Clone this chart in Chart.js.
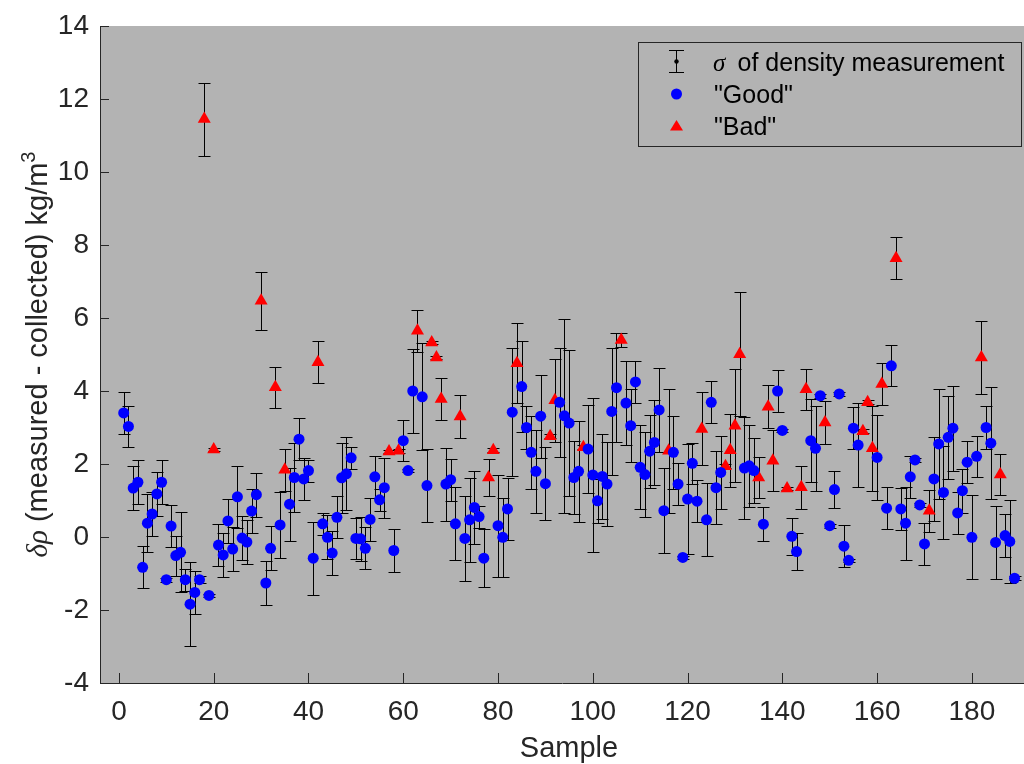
<!DOCTYPE html>
<html><head><meta charset="utf-8">
<script src="https://cdn.jsdelivr.net/npm/chart.js@4"></script>
<style>html,body{margin:0;padding:0;background:#fff;overflow:hidden;} #wrap{width:1024px;height:764px;position:relative;}</style>
</head><body><div id="wrap"><canvas id="c" width="1024" height="764"></canvas></div>
<script>
// Measured minus collected density for each sample (kg/m^3), sample 1..189
const sampleValues = [
  3.40, 3.03, 1.34, 1.50, -0.83, 0.38, 0.63, 1.18, 1.50, -1.17,
  0.30, -0.51, -0.42, -1.17, -1.84, -1.52, -1.17, 11.45, -1.60, 2.40,
  -0.22, -0.49, 0.44, -0.33, 1.10, -0.03, -0.14, 0.71, 1.16, 6.47,
  -1.26, -0.31, 4.10, 0.33, 1.84, 0.90, 1.63, 2.68, 1.59, 1.82,
  -0.58, 4.79, 0.36, -0.01, -0.44, 0.54, 1.62, 1.73, 2.17, -0.04,
  -0.05, -0.31, 0.48, 1.65, 1.02, 1.35, 2.34, -0.37, 2.36, 2.64,
  1.82, 4.00, 5.65, 3.84, 1.41, 5.33, 4.92, 3.78, 1.45, 1.57,
  0.36, 3.30, -0.04, 0.47, 0.81, 0.56, -0.58, 1.63, 2.38, 0.31,
  -0.01, 0.77, 3.42, 4.76, 4.12, 3.00, 2.32, 1.80, 3.31, 1.46,
  2.76, 3.75, 3.69, 3.32, 3.12, 1.63, 1.80, 2.46, 2.41, 1.70,
  0.99, 1.66, 1.45, 3.44, 4.09, 5.40, 3.67, 3.05, 4.25, 1.91,
  1.71, 2.35, 2.59, 3.48, 0.72, 2.36, 2.32, 1.45, -0.56, 1.04,
  2.02, 0.98, 2.96, 0.47, 3.69, 1.35, 1.77, 1.94, 2.38, 3.05,
  5.01, 1.89, 1.95, 1.82, 1.63, 0.35, 3.57, 2.09, 4.00, 2.92,
  1.33, 0.02, -0.40, 1.36, 4.05, 2.64, 2.43, 3.87, 3.14, 0.31,
  1.30, 3.92, -0.25, -0.64, 2.98, 2.52, 2.90, 3.69, 2.43, 2.18,
  4.19, 0.79, 4.69, 7.64, 0.77, 0.38, 1.65, 2.11, 0.88, -0.19,
  0.72, 1.59, 2.55, 1.22, 2.73, 2.98, 0.66, 1.27, 2.05, -0.01,
  2.21, 4.92, 3.00, 2.57, -0.15, 1.71, 0.04, -0.12, -1.13
];
// sigma of density measurement for each sample
const sampleErrors = [
  0.58, 0.57, 0.60, 0.60, 0.58, 0.80, 0.60, 0.60, 0.60, 0.05,
  0.58, 0.55, 1.10, 0.30, 1.15, 0.60, 0.10, 1.00, 0.05, 0.05,
  0.58, 0.60, 0.60, 0.60, 0.85, 0.60, 0.60, 0.60, 0.60, 0.80,
  0.60, 0.60, 0.57, 0.90, 0.58, 1.00, 0.95, 0.58, 0.57, 0.30,
  1.00, 0.58, 0.30, 0.60, 0.60, 0.58, 0.96, 1.00, 0.30, 0.55,
  0.60, 0.58, 0.58, 0.58, 0.30, 0.82, 0.05, 0.58, 0.05, 0.57,
  0.05, 1.14, 0.58, 1.47, 1.00, 0.05, 0.05, 0.58, 1.00, 0.57,
  1.00, 0.58, 1.16, 1.16, 1.00, 0.30, 0.80, 0.50, 0.05, 1.40,
  1.08, 0.85, 1.75, 1.10, 1.25, 0.58, 1.00, 1.14, 1.14, 1.00,
  0.05, 1.14, 1.50, 2.65, 2.00, 1.00, 1.38, 0.05, 1.20, 2.10,
  0.60, 1.16, 1.14, 1.74, 1.50, 0.20, 1.16, 1.00, 0.58, 1.15,
  1.16, 1.00, 1.16, 1.15, 1.16, 1.70, 1.00, 0.57, 0.05, 1.50,
  0.56, 0.57, 1.00, 1.00, 0.58, 1.00, 1.00, 0.05, 1.00, 1.54,
  1.70, 1.40, 1.13, 0.90, 0.57, 0.46, 0.59, 0.83, 0.58, 0.05,
  0.05, 0.50, 0.50, 0.59, 0.56, 1.14, 1.16, 0.05, 0.58, 0.05,
  0.50, 0.05, 0.57, 0.05, 0.57, 1.16, 0.05, 0.05, 1.16, 1.16,
  0.58, 0.57, 0.56, 0.58, 0.58, 1.00, 0.58, 0.05, 0.05, 0.58,
  0.58, 1.16, 1.50, 1.28, 1.14, 1.16, 0.58, 0.60, 0.58, 1.15,
  0.57, 1.00, 0.58, 1.53, 1.00, 0.57, 0.58, 1.14, 0.05
];
// samples classified as "Bad"
const badSamples = [18, 20, 30, 33, 35, 42, 57, 59, 63, 66, 67, 68, 72, 78, 79, 84, 91, 92, 98,
  106, 116, 123, 128, 129, 130, 131, 135, 137, 138, 141, 144, 145, 149, 157, 158, 159, 161, 164,
  171, 182, 186];
const xTickValues = [0, 20, 40, 60, 80, 100, 120, 140, 160, 180];
const yTickValues = [-4, -2, 0, 2, 4, 6, 8, 10, 12, 14];
const legendLabels = ['of density measurement', '"Good"', '"Bad"'];
const xTitle = 'Sample';

const sampleNumbers = sampleValues.map((_, i) => i + 1);
const goodPts = [], badPts = [];
sampleNumbers.forEach((s, i) => {
  const p = { x: s, y: sampleValues[i] };
  (badSamples.includes(s) ? badPts : goodPts).push(p);
});

const AXIS = '#262626';
const PLOT_BG = '#b3b3b3';
const FONT = '"Liberation Sans", Arial, Helvetica, sans-serif';

// stretch the plot area to the right canvas edge (axes run past the picture edge)
const stretchPlugin = {
  id: 'stretch',
  afterLayout(chart) {
    const xs = chart.scales.x;
    const a = chart.chartArea;
    a.right = chart.width;
    a.width = a.right - a.left;
    xs.right = chart.width;
    xs.width = xs.right - xs.left;
    xs.configure();
  }
};

const bgPlugin = {
  id: 'bg',
  beforeDraw(chart) {
    const { ctx, chartArea: a } = chart;
    ctx.save();
    ctx.fillStyle = '#ffffff';
    ctx.fillRect(0, 0, chart.width, chart.height);
    ctx.fillStyle = PLOT_BG;
    ctx.fillRect(a.left, a.top, a.right - a.left, a.bottom - a.top);
    ctx.restore();
  }
};

const errorBarPlugin = {
  id: 'errorBars',
  beforeDatasetsDraw(chart) {
    const { ctx, chartArea: a, scales: { x: xs, y: ys } } = chart;
    ctx.save();
    ctx.beginPath();
    ctx.rect(a.left, a.top, a.right - a.left, a.bottom - a.top);
    ctx.clip();
    ctx.strokeStyle = '#000000';
    ctx.lineWidth = 1;
    const cap = 6;
    sampleNumbers.forEach((s, i) => {
      const v = sampleValues[i], e = sampleErrors[i];
      const px = Math.round(xs.getPixelForValue(s)) + 0.5;
      const yt = Math.round(ys.getPixelForValue(v + e)) + 0.5;
      const yb = Math.round(ys.getPixelForValue(v - e)) + 0.5;
      ctx.beginPath();
      ctx.moveTo(px, yt); ctx.lineTo(px, yb);
      ctx.moveTo(px - cap, yt); ctx.lineTo(px + cap, yt);
      ctx.moveTo(px - cap, yb); ctx.lineTo(px + cap, yb);
      ctx.stroke();
    });
    ctx.restore();
  }
};

const decorPlugin = {
  id: 'decor',
  afterDraw(chart) {
    const { ctx, chartArea: a, scales: { x: xs, y: ys } } = chart;
    ctx.save();
    ctx.strokeStyle = AXIS;
    ctx.lineWidth = 1;
    ctx.beginPath();
    yTickValues.forEach(t => {
      const y = Math.round(ys.getPixelForValue(t)) + 0.5;
      ctx.moveTo(a.left, y); ctx.lineTo(a.left + 9, y);
    });
    xTickValues.forEach(t => {
      const x = Math.round(xs.getPixelForValue(t)) + 0.5;
      ctx.moveTo(x, a.bottom); ctx.lineTo(x, a.bottom - 10);
    });
    ctx.stroke();

    ctx.fillStyle = AXIS;
    ctx.font = '29px ' + FONT;
    ctx.textAlign = 'center';
    ctx.textBaseline = 'alphabetic';
    ctx.fillText(xTitle, 569, 757);

    const segs = [
      { t: 'δρ', f: 'italic 29px "Liberation Serif", serif', dy: 0 },
      { t: ' (measured - collected) kg/m', f: '29px ' + FONT, dy: 0 },
      { t: '3', f: '20px ' + FONT, dy: -12 }
    ];
    let total = 0;
    segs.forEach(s => { ctx.font = s.f; s.w = ctx.measureText(s.t).width; total += s.w; });
    ctx.translate(47, (a.top + a.bottom) / 2);
    ctx.rotate(-Math.PI / 2);
    ctx.textAlign = 'left';
    let cx = -total / 2;
    segs.forEach(s => { ctx.font = s.f; ctx.fillText(s.t, cx, s.dy); cx += s.w; });
    ctx.restore();

    ctx.save();
    const L = 638.5, T = 42.5, R = 1021.5, B = 146.5;
    ctx.fillStyle = PLOT_BG;
    ctx.fillRect(L, T, R - L, B - T);
    ctx.strokeStyle = AXIS;
    ctx.lineWidth = 1;
    ctx.strokeRect(L, T, R - L, B - T);
    const gx = 676;
    ctx.strokeStyle = '#000';
    ctx.beginPath();
    ctx.moveTo(gx + 0.5, 50); ctx.lineTo(gx + 0.5, 73);
    ctx.moveTo(gx - 7, 50.5); ctx.lineTo(gx + 8, 50.5);
    ctx.moveTo(gx - 7, 72.5); ctx.lineTo(gx + 8, 72.5);
    ctx.stroke();
    ctx.fillStyle = '#000';
    ctx.beginPath(); ctx.arc(gx + 0.5, 61.5, 2.2, 0, Math.PI * 2); ctx.fill();
    ctx.fillStyle = '#0000ff';
    ctx.beginPath(); ctx.arc(gx + 0.5, 94, 5.5, 0, Math.PI * 2); ctx.fill();
    ctx.fillStyle = '#ff0000';
    ctx.beginPath();
    ctx.moveTo(gx + 0.5, 120); ctx.lineTo(gx + 7, 130.5); ctx.lineTo(gx - 6, 130.5); ctx.closePath(); ctx.fill();
    ctx.fillStyle = '#000';
    ctx.textBaseline = 'alphabetic';
    ctx.textAlign = 'left';
    ctx.font = 'italic 25px "Liberation Serif", serif';
    ctx.fillText('σ', 713, 71);
    const sw = ctx.measureText('σ ').width;
    ctx.font = '25px ' + FONT;
    ctx.fillText(legendLabels[0], 713 + sw + 6, 71);
    ctx.fillText(legendLabels[1], 714, 103);
    ctx.fillText(legendLabels[2], 714, 135);
    ctx.restore();
  }
};

new Chart(document.getElementById('c'), {
  type: 'scatter',
  data: {
    datasets: [
      { label: '"Good"', data: goodPts, pointStyle: 'circle', pointRadius: 5.5, pointHoverRadius: 5.5,
        backgroundColor: '#0000ff', borderWidth: 0, pointBorderWidth: 0 },
      { label: '"Bad"', data: badPts, pointStyle: 'triangle', pointRadius: 7.5, pointHoverRadius: 7.5,
        backgroundColor: '#ff0000', borderWidth: 0, pointBorderWidth: 0 }
    ]
  },
  options: {
    responsive: false,
    animation: false,
    devicePixelRatio: 1,
    events: [],
    layout: { padding: { top: 26, right: 0, left: 0, bottom: 0 } },
    plugins: { legend: { display: false }, tooltip: { enabled: false } },
    scales: {
      x: {
        type: 'linear', min: -4, max: 191,
        afterBuildTicks: s => { s.ticks = xTickValues.map(v => ({ value: v })); },
        afterFit: s => { s.height = 81; s.paddingLeft = 0; s.paddingRight = 0; },
        grid: { display: false, drawTicks: false },
        border: { display: true, color: AXIS, width: 1 },
        ticks: { color: AXIS, font: { family: FONT, size: 28 }, padding: 12, maxRotation: 0, autoSkip: false },
        title: { display: false }
      },
      y: {
        type: 'linear', min: -4, max: 14,
        afterBuildTicks: s => { s.ticks = yTickValues.map(v => ({ value: v })); },
        afterFit: s => { s.width = 100; s.paddingTop = 0; s.paddingBottom = 0; },
        grid: { display: false, drawTicks: false },
        border: { display: true, color: AXIS, width: 1 },
        ticks: { color: AXIS, font: { family: FONT, size: 28 }, padding: 11, autoSkip: false },
        title: { display: false }
      }
    }
  },
  plugins: [stretchPlugin, bgPlugin, errorBarPlugin, decorPlugin]
});
</script>
</body></html>
